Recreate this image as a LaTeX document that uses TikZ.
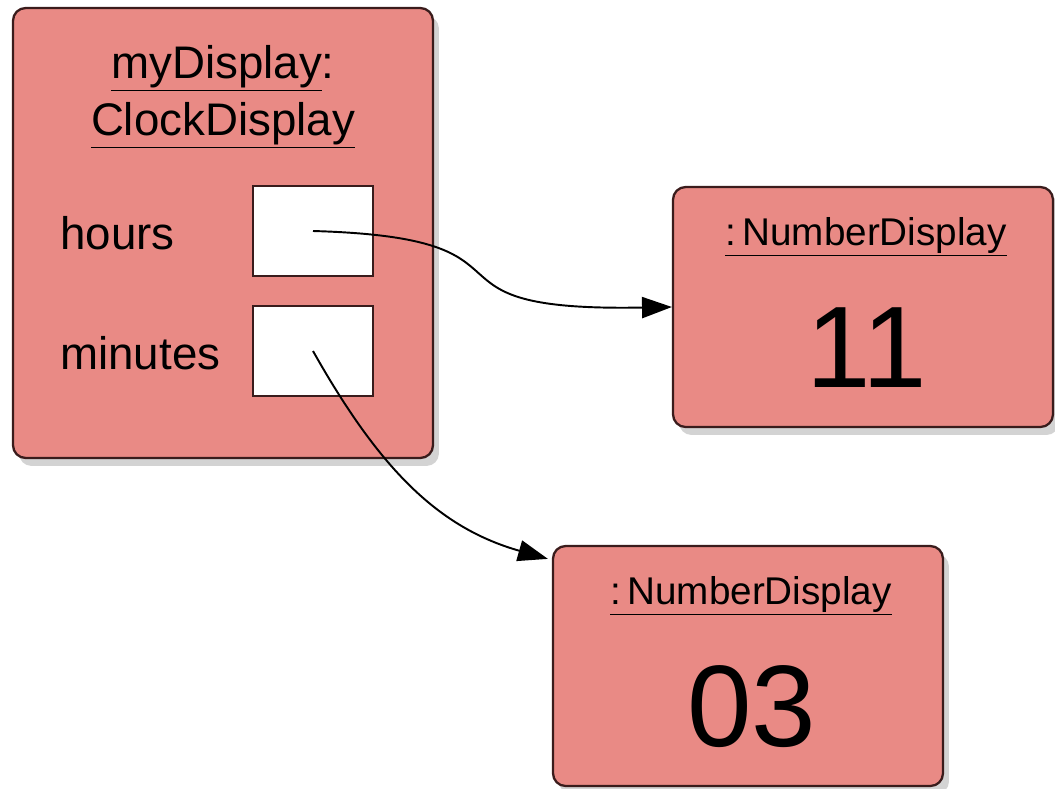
\documentclass[tikz,border=0pt]{standalone}
\usepackage{fontspec}
\setmainfont{Liberation Sans}
\usetikzlibrary{arrows.meta,shadows}
\definecolor{objfill}{HTML}{E98A85}
\definecolor{objline}{HTML}{3A1C1C}
\tikzset{
  objbox/.style={draw=objline, line width=1.3pt, fill=objfill, rounded corners=0.25cm,
    inner sep=0pt, drop shadow={shadow xshift=0.12cm, shadow yshift=-0.16cm, opacity=0.35}},
  slotbox/.style={draw=objline, line width=1.3pt, fill=white, inner sep=0pt,
    minimum width=2.4cm, minimum height=1.8cm},
  fieldtxt/.style={font=\fontsize{26}{32}\selectfont, inner sep=0pt},
  titletxt/.style={font=\fontsize{22}{26}\selectfont, inner sep=0pt},
  valtxt/.style={font=\fontsize{66}{70}\selectfont, inner sep=0pt},
  ref/.style={-{Triangle[length=17pt,width=12pt]}, line width=1.1pt}
}
\begin{document}
\begin{tikzpicture}[x=0.02cm,y=-0.02cm]
    \useasboundingbox (0,0) rectangle (1055,788);
    % the clock object
    \node[objbox, minimum width=8.4cm, minimum height=9cm] (clockdisp) at (223,233) {};
    \node[fieldtxt, align=center, anchor=base] (clocktitle) at (223,135)
      {\underline{myDisplay}:\\\underline{ClockDisplay}};
    \foreach \nm/\lbl/\y in {hours/hours/231, minutes/minutes/351}
    {
    \node[slotbox] (\nm slot) at (313,\y) {};
    \node[fieldtxt, anchor=base west] (\nm lbl) at (60,\y+18) {\lbl};
    }
    % the two number displays
    \foreach \nm/\x/\y/\w/\val in {numdisp11/863/307/7.6/11, numdisp03/748/666/7.8/03}
    {
    \node[objbox, minimum width=\w cm, minimum height=4.8cm] (\nm) at (\x,\y) {};
    \node[titletxt, anchor=base] (\nm title) at (\x+3,\y-62) {\underline{:\,NumberDisplay}};
    \node[valtxt, anchor=base] (\nm val) at (\x+4,\y+80) {\val};
    }
    % references
    \draw[ref] (hoursslot.center) .. controls +(247,7) and +(-273,5) .. (numdisp11.west);
    \draw[ref] (minutesslot.center) .. controls +(67,119) and +(-109,-31) .. ([shift={(-4,14)}]numdisp03.north west);
\end{tikzpicture}
\end{document}
